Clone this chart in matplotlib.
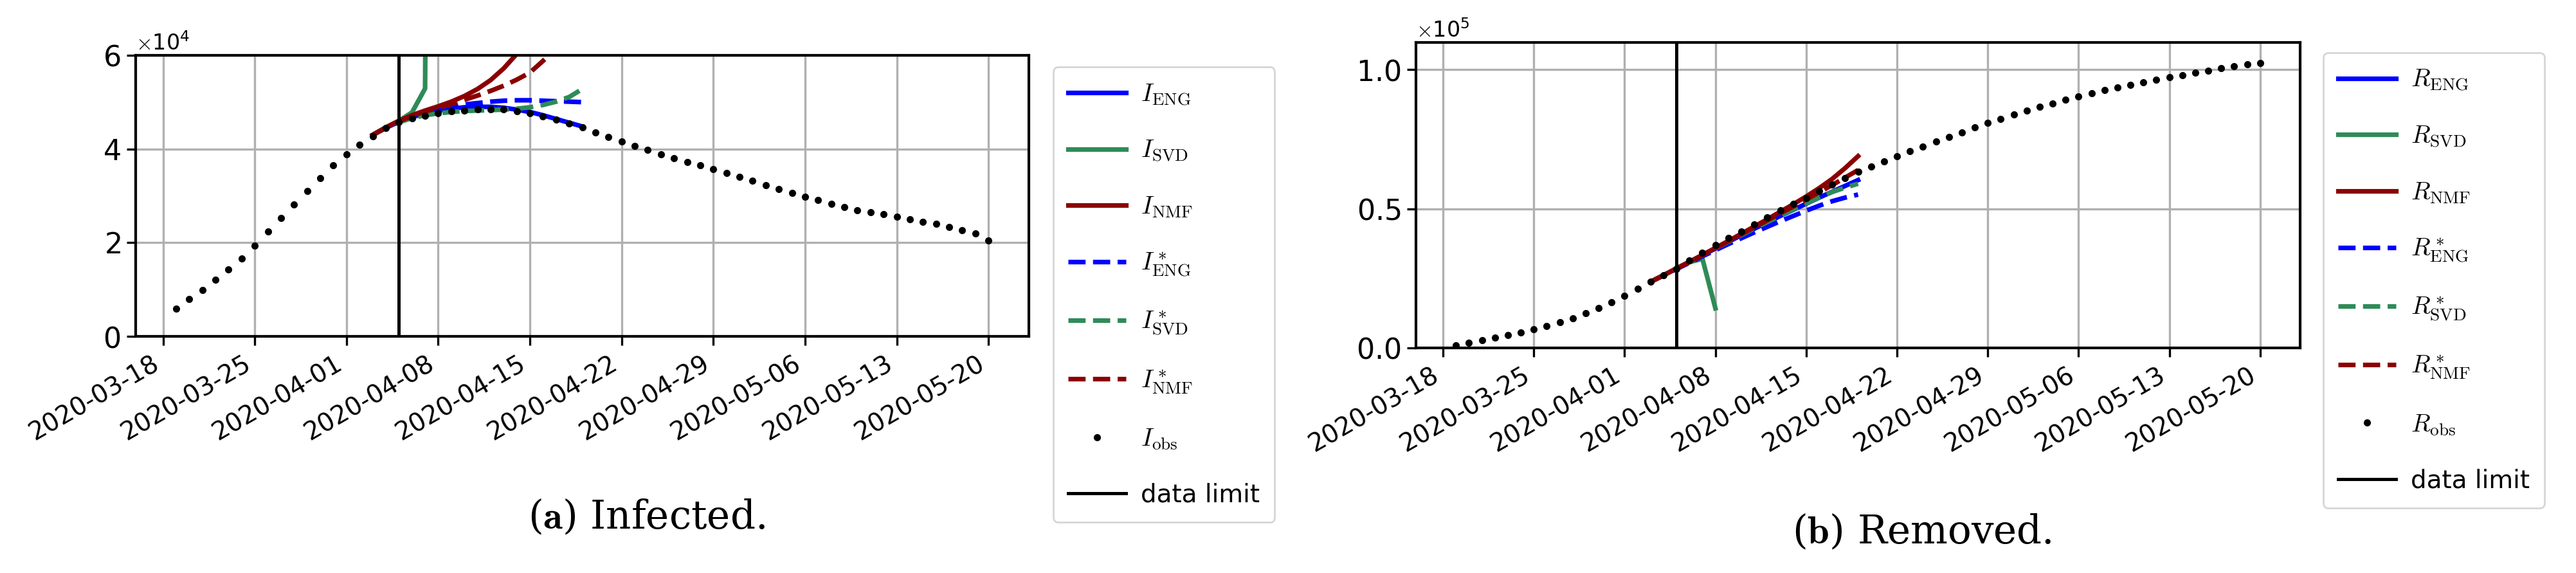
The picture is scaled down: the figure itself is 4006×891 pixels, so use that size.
import numpy as np
import pandas as pd
import matplotlib
matplotlib.use('Agg')
import matplotlib.pyplot as plt
import matplotlib.dates as mdates
from matplotlib.ticker import ScalarFormatter

plt.rcParams['mathtext.fontset'] = 'cm'
plt.rcParams['font.family'] = 'DejaVu Sans'

# observed data
obs_dates = pd.date_range('2020-03-19', '2020-05-20', freq='D')
infected_obs = [5950, 7900, 9870, 12060, 14330, 16680, 19420, 22400, 25200, 28100,
                31000, 33750, 36500, 38840, 40950, 42750, 44470, 45700, 46500, 47100,
                47600, 48000, 48200, 48400, 48450, 48400, 48100, 47600, 47000, 46300,
                45500, 44600, 43500, 42600, 41650, 40700, 39800, 38850, 38050, 37250,
                36500, 35700, 34900, 34100, 33200, 32300, 31400, 30600, 29800, 29050,
                28250, 27550, 26900, 26450, 26100, 25500, 25000, 24500, 24000, 23300,
                22600, 21900, 20500]
removed_obs = [800, 1800, 2700, 3600, 4600, 5600, 6700, 7900, 9200, 10700,
               12400, 14300, 16400, 18800, 21300, 23700, 26000, 28500, 31300, 34100,
               36900, 39400, 41900, 44400, 46900, 49400, 51700, 53900, 56300, 58700,
               61000, 63300, 65200, 67100, 68900, 70700, 72400, 74100, 75800, 77500,
               79200, 80800, 82300, 83800, 85200, 86600, 87900, 89200, 90400, 91500,
               92600, 93600, 94600, 95500, 96400, 97300, 98100, 98900, 99700, 100500,
               101200, 101900, 102500]

# predictions from 2020-04-03
pred_dates = pd.date_range('2020-04-03', '2020-04-19', freq='D')
i_eng = [43000, 44500, 45800, 46800, 47600, 48200, 48600, 48900, 49000, 49000,
         48800, 48400, 47900, 47200, 46400, 45600, 44800]
i_svd = [43000, 44600, 46000, 47800, 52900, 500000]
i_nmf = [43000, 44600, 46000, 47200, 48200, 49100, 50100, 51300, 52800, 54700,
         57200, 60300, 64000, 68000, 72000, 76000, 80000]
i_eng_s = [43000, 44500, 45800, 46800, 47700, 48400, 49000, 49500, 49800, 50100,
           50300, 50400, 50400, 50300, 50200, 50100, 50000]
i_svd_s = [43000, 44500, 45700, 46600, 47200, 47600, 47900, 48100, 48200, 48300,
           48400, 48600, 48900, 49400, 50100, 51100, 52800]
i_nmf_s = [43000, 44500, 45900, 47000, 48000, 48800, 49600, 50500, 51400, 52400,
           53500, 54800, 56300, 58800, 61500, 64500, 68000]

r_eng = [23700, 26100, 28500, 30900, 33300, 35700, 38100, 40500, 42800, 45100,
         47400, 49600, 51800, 54000, 56100, 58200, 60300]
r_svd = [23700, 26100, 28500, 30800, 32000, 14200]
r_nmf = [23700, 26100, 28500, 30900, 33400, 35900, 38400, 41000, 43600, 46200,
         48900, 51600, 54400, 57400, 60700, 64600, 68900]
r_eng_s = [23700, 26000, 28300, 30600, 32900, 35100, 37300, 39400, 41500, 43500,
           45500, 47400, 49300, 51100, 52700, 54000, 55100]
r_svd_s = [23700, 26100, 28500, 30900, 33300, 35700, 38100, 40500, 42900, 45200,
           47500, 49700, 51900, 54000, 56000, 57600, 59000]
r_nmf_s = [23700, 26100, 28500, 30900, 33300, 35800, 38300, 40800, 43300, 45800,
           48300, 50800, 53300, 55900, 58500, 61200, 63900]

data_limit = pd.Timestamp('2020-04-05')
tick_dates = pd.date_range('2020-03-18', '2020-05-20', freq='7D')

BLUE, GREEN, RED = '#0000ff', '#2e8b57', '#8b0000'


def draw_panel(ax, sym, preds, obs, ylim, ticks, leg_pos):
    (eng, svd, nmf, eng_s, svd_s, nmf_s) = preds
    lw = 2.6
    ax.plot(pred_dates, eng, color=BLUE, lw=lw, label=rf'${sym}_{{\mathrm{{ENG}}}}$')
    ax.plot(pred_dates[:len(svd)], svd, color=GREEN, lw=lw, label=rf'${sym}_{{\mathrm{{SVD}}}}$')
    ax.plot(pred_dates, nmf, color=RED, lw=lw, label=rf'${sym}_{{\mathrm{{NMF}}}}$')
    ax.plot(pred_dates, eng_s, '--', color=BLUE, lw=lw, label=rf'${sym}^*_{{\mathrm{{ENG}}}}$')
    ax.plot(pred_dates, svd_s, '--', color=GREEN, lw=lw, label=rf'${sym}^*_{{\mathrm{{SVD}}}}$')
    ax.plot(pred_dates, nmf_s, '--', color=RED, lw=lw, label=rf'${sym}^*_{{\mathrm{{NMF}}}}$')
    ax.plot(obs_dates, obs, 'k.', ms=6, label=rf'${sym}_{{\mathrm{{obs}}}}$')
    ax.axvline(data_limit, color='black', lw=1.8, label='data limit')
    ax.set_ylim(*ylim)
    ax.set_yticks(ticks)
    fmt = ScalarFormatter(useMathText=True)
    fmt.set_powerlimits((0, 0))
    ax.yaxis.set_major_formatter(fmt)
    ax.yaxis.get_offset_text().set_fontsize(12)
    ax.set_xlim(pd.Timestamp('2020-03-15 22:00'), pd.Timestamp('2020-05-23 02:00'))
    ax.set_xticks(tick_dates)
    ax.xaxis.set_major_formatter(mdates.DateFormatter('%Y-%m-%d'))
    plt.setp(ax.get_xticklabels(), rotation=30, ha='right')
    ax.tick_params(axis='x', labelsize=14, width=1.2, length=5)
    ax.tick_params(axis='y', labelsize=16, width=1.2, length=5)
    ax.grid(True, color='#b0b0b0', lw=1.2)
    for s in ax.spines.values():
        s.set_linewidth(1.5)
    fig.legend(*ax.get_legend_handles_labels(), loc='upper left', bbox_to_anchor=leg_pos,
               fontsize=14, labelspacing=1.25, handlelength=2.3, handletextpad=0.6,
               borderpad=0.6, edgecolor='#cccccc', fancybox=True)


fig = plt.figure(figsize=(20.03, 4.455), dpi=200)
ax1 = fig.add_axes([0.0527, 0.413, 0.3467, 0.4905])
ax2 = fig.add_axes([0.5497, 0.393, 0.3432, 0.533])

draw_panel(ax1, 'I', (i_eng, i_svd, i_nmf, i_eng_s, i_svd_s, i_nmf_s), infected_obs,
           (0, 60000), [0, 20000, 40000, 60000], (0.404, 0.905))
draw_panel(ax2, 'R', (r_eng, r_svd, r_nmf, r_eng_s, r_svd_s, r_nmf_s), removed_obs,
           (0, 109800), [0, 50000, 100000], (0.897, 0.930))

fig.text(0.251, 0.097, r'($\mathbf{a}$) Infected.', ha='center', va='center',
         fontsize=22, family='DejaVu Serif')
fig.text(0.746, 0.071, r'($\mathbf{b}$) Removed.', ha='center', va='center',
         fontsize=22, family='DejaVu Serif')

fig.savefig('out.png', dpi=200)
